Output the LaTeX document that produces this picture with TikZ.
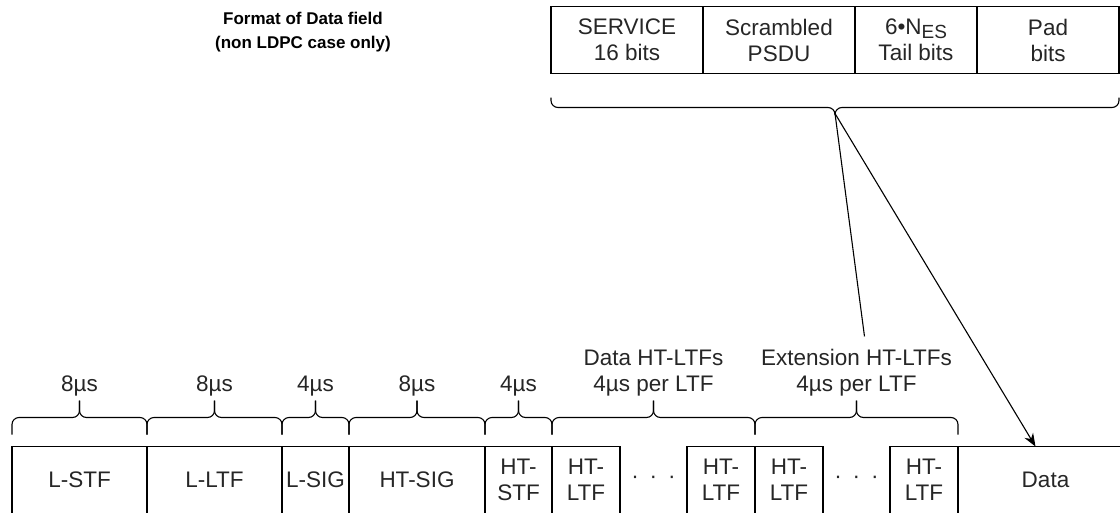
\documentclass[tikz,border=0pt]{standalone}
\usepackage{fontspec}
\setmainfont{Liberation Sans}
\usetikzlibrary{positioning,calc,arrows.meta}

% brace over a run of fields: start, end, hook height, tip height, tip name
\newcommand{\fieldbrace}[5]{%
  \coordinate (#5) at ($(#1)!.5!(#2)+(0,#4)$);
  \draw[rounded corners=7pt] (#1) -- ++(0,#3) -| (#5);
  \draw[rounded corners=7pt] (#2) -- ++(0,#3) -| (#5);
}

\begin{document}
\begin{tikzpicture}[x=1pt, y=-1pt, line width=1.1pt,
    font=\fontsize{22.5}{26}\selectfont,
    fld/.style={draw, minimum height=67pt, inner sep=0pt, outer sep=0pt, align=center, text=black!85},
    gap/.style={minimum height=67pt, inner sep=0pt, outer sep=0pt, text=black!85},
    lbl/.style={above=4pt, inner sep=0pt, align=center, text=black!85}]
			\useasboundingbox (0,0) rectangle (1120,512);

			% format of data field
			\node[font=\fontsize{17}{24}\selectfont\bfseries, align=center] (title) at (303,32) {Format of Data field\\(non LDPC case only)};
			\node[fld, minimum width=152pt] (svc) at (627,40) {SERVICE\\16 bits};
			\node[fld, minimum width=152pt] (psdu)[right=0pt of svc] {Scrambled\\PSDU};
			\node[fld, minimum width=122pt] (tail)[right=0pt of psdu] {6•N\raisebox{-0.35ex}{\fontsize{19}{19}\selectfont ES}\\Tail bits};
			\node[fld, minimum width=142pt] (pad)[right=0pt of tail] {Pad\\bits};

			\fieldbrace{[yshift=-24pt]svc.south west}{[yshift=-24pt]pad.south east}{10}{16}{tip}

			% PPDU fields
			\node[fld, minimum width=135pt] (lstf) at (79.5,480) {L-STF};
			\node[fld, minimum width=135pt] (lltf)[right=0pt of lstf] {L-LTF};
			\node[fld, minimum width=67pt] (lsig)[right=0pt of lltf] {L-SIG};
			\node[fld, minimum width=136pt] (htsig)[right=0pt of lsig] {HT-SIG};
			\node[fld, minimum width=67pt] (htstf)[right=0pt of htsig] {HT-\\STF};
			\node[fld, minimum width=68pt] (ltfa)[right=0pt of htstf] {HT-\\LTF};
			\node[gap, minimum width=67pt] (dotsa)[right=0pt of ltfa] {·\hspace{11pt}·\hspace{11pt}·};
			\node[fld, minimum width=68pt] (ltfb)[right=0pt of dotsa] {HT-\\LTF};
			\node[fld, minimum width=68pt] (ltfc)[right=0pt of ltfb] {HT-\\LTF};
			\node[gap, minimum width=67pt] (dotsb)[right=0pt of ltfc] {·\hspace{11pt}·\hspace{11pt}·};
			\node[fld, minimum width=68pt] (ltfd)[right=0pt of dotsb] {HT-\\LTF};
			\node[fld, minimum width=175pt] (data)[right=0pt of ltfd] {Data};

			\fieldbrace{[yshift=12pt]lstf.north west}{[yshift=12pt]lstf.north east}{-17}{-34}{b1}
			\fieldbrace{[yshift=12pt]lltf.north west}{[yshift=12pt]lltf.north east}{-17}{-34}{b2}
			\fieldbrace{[yshift=12pt]lsig.north west}{[yshift=12pt]lsig.north east}{-17}{-34}{b3}
			\fieldbrace{[yshift=12pt]htsig.north west}{[yshift=12pt]htsig.north east}{-17}{-34}{b4}
			\fieldbrace{[yshift=12pt]htstf.north west}{[yshift=12pt]htstf.north east}{-17}{-34}{b5}
			\fieldbrace{[yshift=12pt]ltfa.north west}{[yshift=12pt]ltfb.north east}{-17}{-34}{b6}
			\fieldbrace{[yshift=12pt]ltfc.north west}{[yshift=12pt]ltfd.north east}{-17}{-34}{b7}

			\node[lbl] (lstflbl) at (b1) {8µs};
			\node[lbl] (lltflbl) at (b2) {8µs};
			\node[lbl] (lsiglbl) at (b3) {4µs};
			\node[lbl] (htsiglbl) at (b4) {8µs};
			\node[lbl] (htstflbl) at (b5) {4µs};
			\node[lbl] (datalbl) at (b6) {Data HT-LTFs\\4µs per LTF};
			\node[lbl] (extlbl) at (b7) {Extension HT-LTFs\\4µs per LTF};

			\draw (tip) -- ([xshift=8pt, yshift=12pt]extlbl.north);
			\draw[-{Stealth[length=13pt, width=10pt]}] (tip) -- ([xshift=-10pt]data.north);
		\end{tikzpicture}
\end{document}
